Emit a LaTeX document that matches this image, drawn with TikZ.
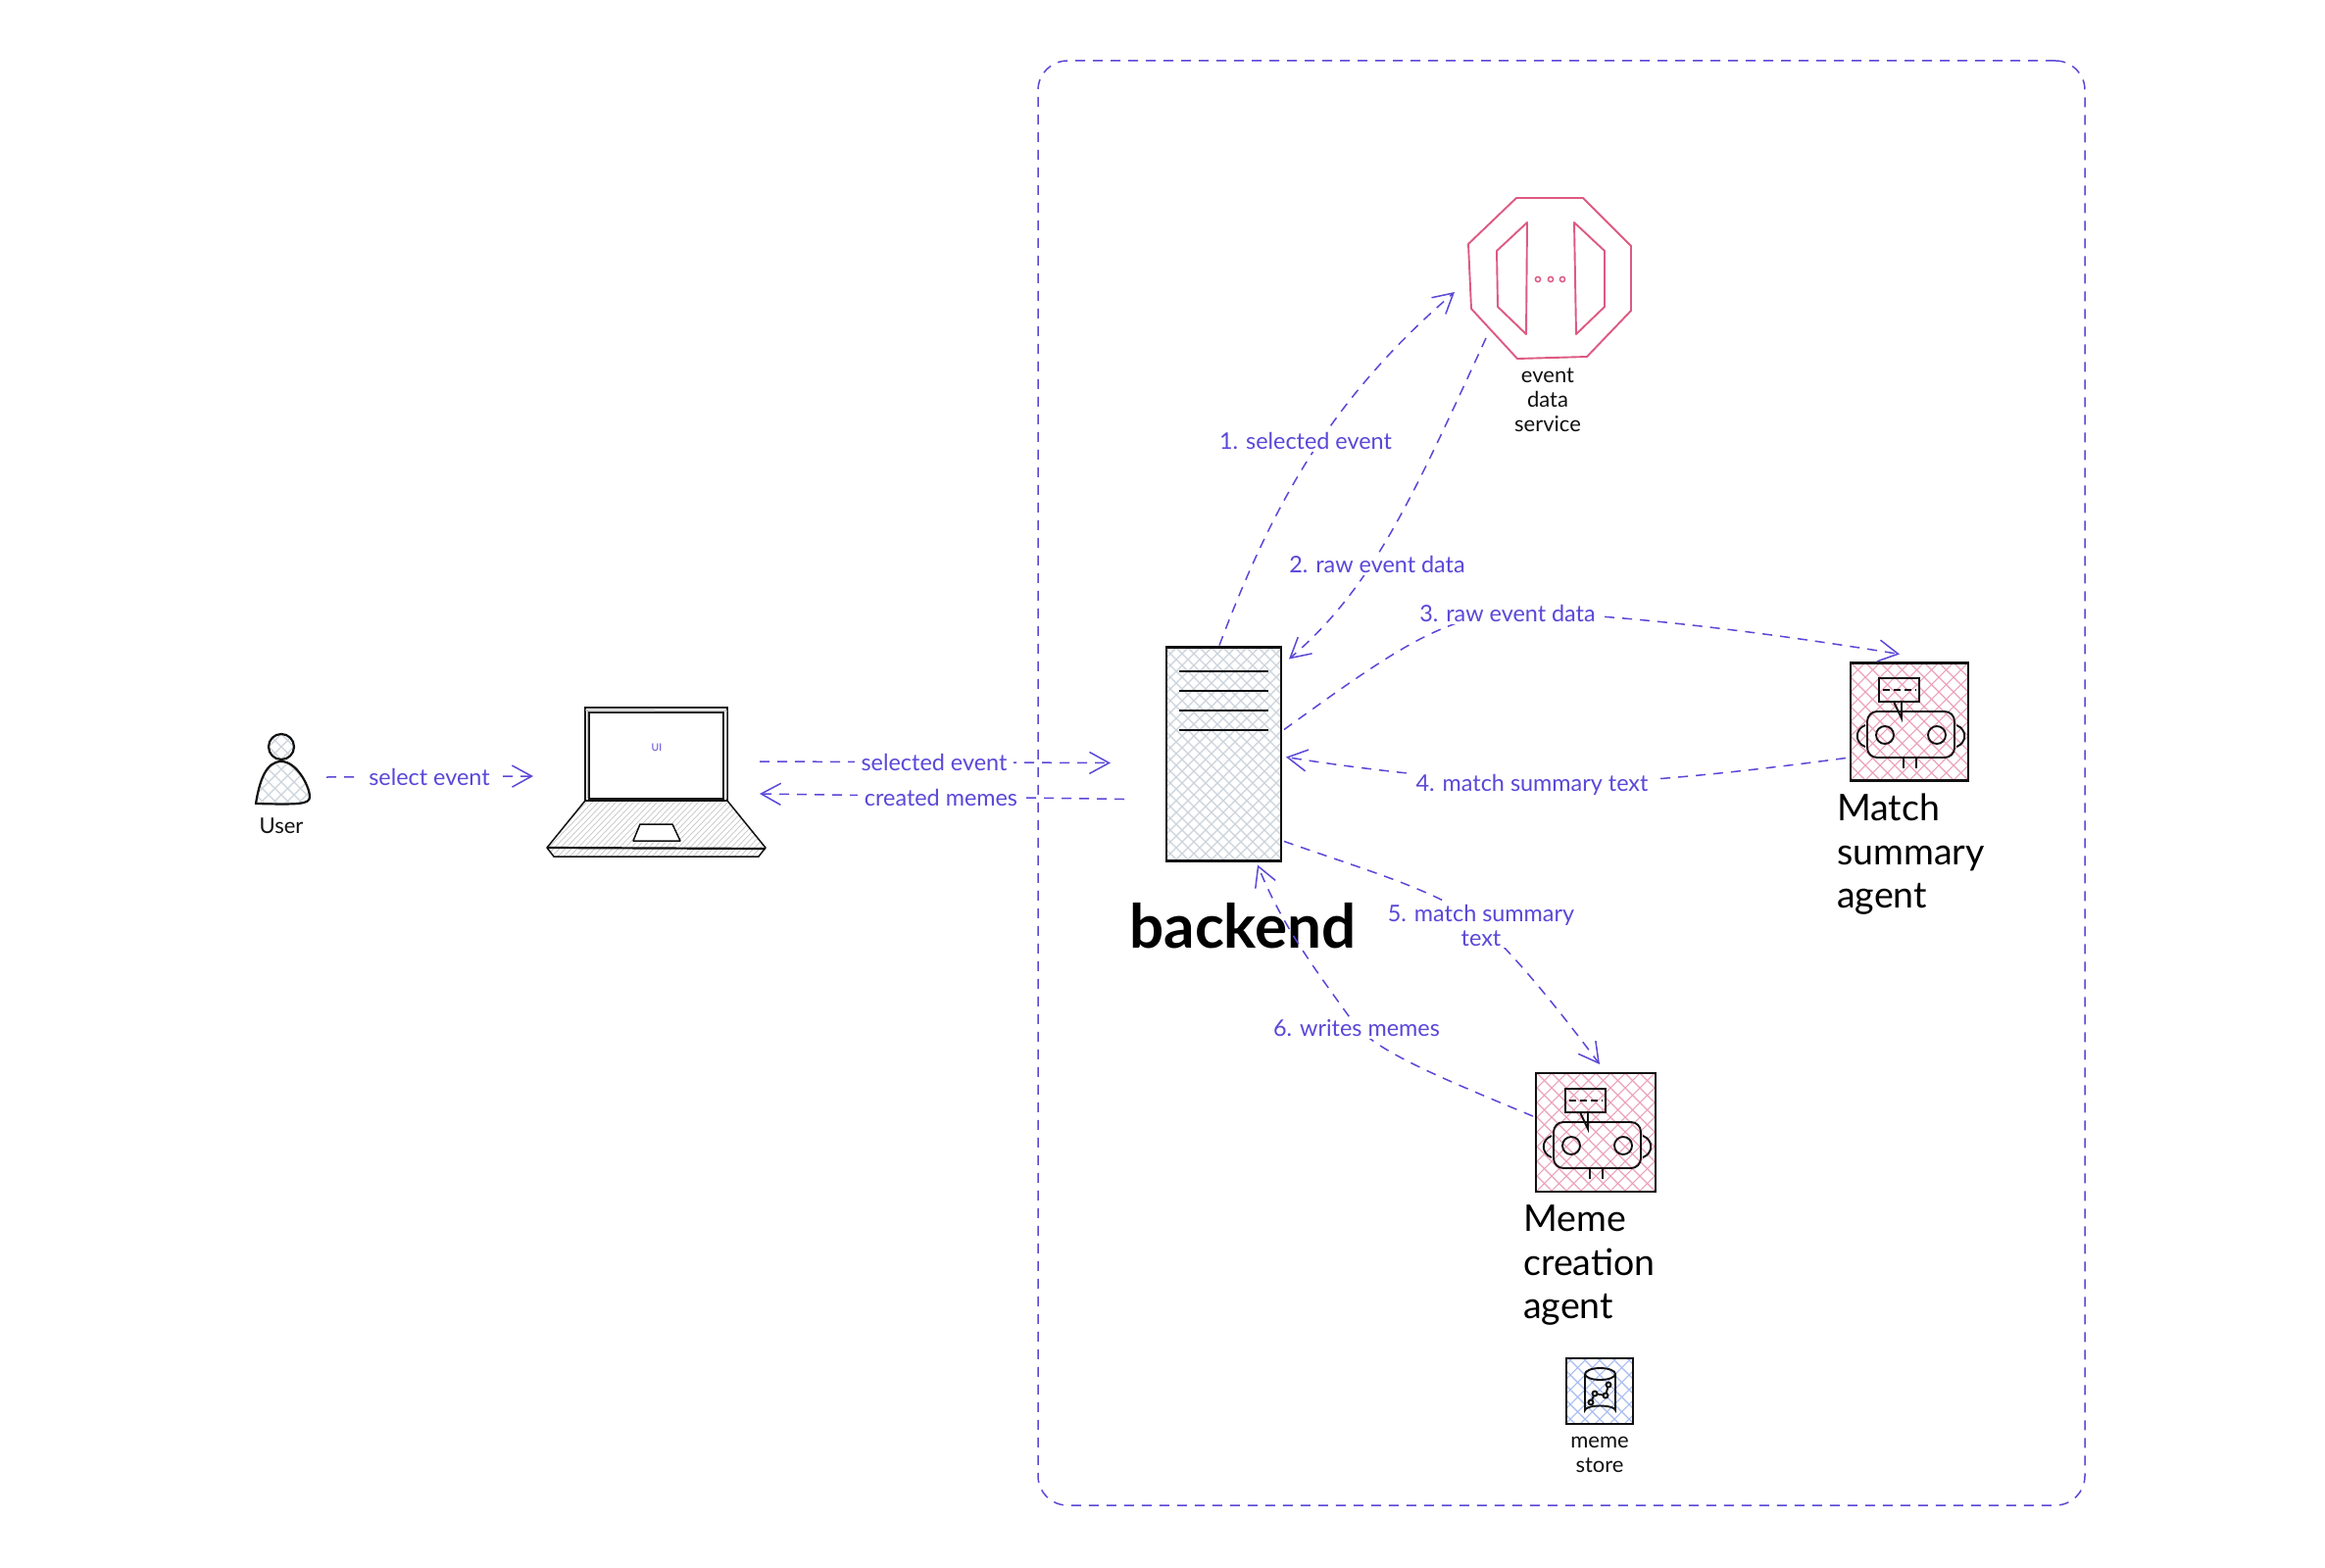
\documentclass[tikz,border=0pt]{standalone}
\usepackage{fontspec}
\setmainfont{Lato}
\usetikzlibrary{arrows.meta,shapes.misc}
\definecolor{flow}{HTML}{5A48D8}
\definecolor{rosepen}{HTML}{DD5A82}
\definecolor{inkc}{HTML}{111111}
\definecolor{hatchgrey}{HTML}{CCD3DB}
\definecolor{hatchpink}{HTML}{ECA0B8}
\definecolor{hatchblue}{HTML}{A8BCF0}
\newcommand{\hatchfill}[6]{% clip path, cx, cy, R, x spacing, colour
  \begin{scope}
    \clip #1;
    \pgfmathtruncatemacro{\nn}{#4/#5}
    \foreach \k in {-\nn,...,\nn}{
      \draw[#6,line width=1.1pt] ({#2+\k*#5-#4},{#3-#4}) -- ({#2+\k*#5+#4},{#3+#4});
      \draw[#6,line width=1.1pt] ({#2+\k*#5+#4},{#3-#4}) -- ({#2+\k*#5-#4},{#3+#4});
    }
  \end{scope}}
\newcommand{\robot}[2]{%
  \begin{scope}[shift={(#1,#2)},line width=1.9pt,draw=inkc]
    \draw[fill=none] (29,15) rectangle (70,39);
    \draw (44,39) -- (52,56) -- (52,39);
    \draw[line width=2pt,dash pattern=on 7pt off 4pt] (33,27) -- (67,27);
    \draw[rounded corners=10pt] (17,49) rectangle (106,96);
    \draw (35,73) circle (9);
    \draw (88,73) circle (9);
    \draw (15,63) .. controls (4,67) and (4,81) .. (15,85);
    \draw (108,63) .. controls (119,67) and (119,81) .. (108,85);
    \draw (54,96) -- (54,107);
    \draw (67,96) -- (67,107);
  \end{scope}}
\tikzset{
  x=1pt,y=-1pt,
  flowline/.style={draw=flow,line width=1.5pt,dash pattern=on 10pt off 8pt,
    -{Straight Barb[length=20pt,width=22pt,line width=1.5pt]}},
  flowlabel/.style={text=flow,fill=white,inner ysep=2pt,inner xsep=7pt,font=\fontsize{23.4}{25}\selectfont,align=center},
  smalltext/.style={text=inkc,inner sep=0pt,font=\fontsize{22}{25}\selectfont,align=center},
  bigtext/.style={text=black,inner sep=0pt,font=\fontsize{37.5}{44.5}\selectfont,align=left,anchor=west},
  box/.style={draw=inkc,line width=2.5pt,inner sep=0pt,outer sep=0pt,rectangle},
  sketch/.style={draw=inkc,line width=1.5pt},
  rosepath/.style={draw=rosepen,line width=1.9pt},
}
\begin{document}
\begin{tikzpicture}
\useasboundingbox (0,0) rectangle (2372,1600);
\fill[white] (0,0) rectangle (2372,1600);

% system boundary
\node[draw=flow,line width=1.5pt,dash pattern=on 10pt off 8pt,rounded corners=30pt,
  rectangle,inner sep=0pt,minimum width=1068pt,minimum height=1474pt] (system) at (1593,799) {};

% user
\hatchfill{(287,762) circle (13)}{287}{762}{30}{13}{hatchgrey}
\hatchfill{(261,820) .. controls (265,795) and (272,777) .. (287,777) .. controls (303,777) and (316,803) .. (316,813) .. controls (316,821) and (304,821) .. (261,820) -- cycle}{287}{798}{65}{13}{hatchgrey}
\node[circle,draw=inkc,line width=2.2pt,minimum size=26pt,inner sep=0pt] (userhead) at (287,762) {};
\draw[draw=inkc,line width=2.2pt,line join=round] (261,820) .. controls (265,795) and (272,777) .. (287,777) .. controls (303,777) and (316,803) .. (316,813) .. controls (316,821) and (304,821) .. (261,820) -- cycle;
\coordinate (userend) at (333,793);
\node[smalltext] (userlabel) at (287,843) {User};

% laptop
\begin{scope}
  \clip (597,817) -- (742,817) -- (781,865) -- (774,874) -- (565,874) -- (558,865) -- cycle;
  \foreach \k in {0,6,...,300}{
    \draw[gray!45,line width=.7pt] ({558+\k-55},874) -- ({558+\k},817);
  }
\end{scope}
\fill[white] (653,841) -- (686,841) -- (694,858) -- (646,858) -- cycle;
\node[draw=inkc,line width=2pt,rectangle,inner sep=0pt,minimum width=145pt,minimum height=95pt] (laptop) at (669.5,769.5) {};
\node[draw=inkc,line width=2pt,rectangle,inner sep=0pt,minimum width=137pt,minimum height=88pt] (screen) at (669.5,771) {};
\draw[gray!60,line width=1pt] (597,724.5) -- (742,725) (599.5,725) -- (599.5,815) (741,725) -- (741,815);
\node[text=flow,font=\fontsize{10.5}{12}\selectfont,inner sep=0pt] (uilabel) at (670,763) {UI};
\draw[sketch,line join=round] (597,817) -- (558,865) -- (565,874) -- (774,874) -- (781,865) -- (742,817);
\draw[draw=inkc,line width=2.2pt] (558,865) -- (781,866);
\draw[sketch,line join=round] (653,841) -- (686,841) -- (694,858) -- (646,858) -- cycle;

% backend
\hatchfill{(1190,660) rectangle (1307,878)}{1248}{769}{175}{12}{hatchgrey}
\node[box,minimum width=117pt,minimum height=218pt] (backend) at (1248.5,769.5) {};
\foreach \yy in {685,705,725,745}{\draw[draw=inkc,line width=2pt] (1203,\yy) -- (1294,\yy);}
\node[text=black,inner sep=0pt,font=\bfseries\fontsize{62}{70}\selectfont] (backendlabel) at (1268,945) {backend};

% event data service
\node[rectangle,inner sep=0pt,minimum width=166pt,minimum height=164pt] (eds) at (1581,284) {};
\draw[rosepath,line join=round] (1547,202) -- (1615,202) -- (1664,251) -- (1664,317) -- (1619,364) -- (1548,366) -- (1501,315) -- (1498,249) -- cycle;
\draw[rosepath,line join=round] (1558,227) -- (1527,256) -- (1528,313) -- (1557,341) -- cycle;
\draw[rosepath,line join=round] (1606,227) -- (1637,256) -- (1637,313) -- (1608,341) -- cycle;
\foreach \xx in {1569,1582,1594}{\draw[draw=rosepen,line width=1.5pt] (\xx,285) circle (2.6);}
\node[smalltext] (edslabel) at (1579,408.5) {event\\data\\service};

% match summary agent
\hatchfill{(1888,676) rectangle (2008,796)}{1948}{736}{125}{15}{hatchpink}
\node[box,minimum width=120pt,minimum height=120pt] (match) at (1948,736.5) {};
\robot{1888}{677}
\node[bigtext] (matchlabel) at (1874,872) {Match\\summary\\agent};

% meme creation agent
\hatchfill{(1567,1095) rectangle (1689,1216)}{1628}{1155}{125}{15}{hatchpink}
\node[box,minimum width=122pt,minimum height=121pt] (meme) at (1628,1155.5) {};
\robot{1568}{1096}
\node[bigtext] (memelabel) at (1554,1291) {Meme\\creation\\agent};

% meme store
\hatchfill{(1598,1385) rectangle (1666,1452)}{1632}{1418}{70}{15}{hatchblue}
\node[box,line width=2pt,minimum width=68pt,minimum height=67pt] (store) at (1632,1419) {};
\begin{scope}[draw=inkc,line width=1.9pt]
  \draw (1617,1402) arc[start angle=180,end angle=-180,x radius=15.5,y radius=6];
  \draw (1617,1402) -- (1617,1439) arc[start angle=180,end angle=360,x radius=15.5,y radius=4.5] -- (1648,1402);
  \draw (1623,1431) -- (1627,1422) -- (1638,1424) -- (1641,1413);
  \foreach \pp in {(1623,1431),(1627,1422),(1638,1424),(1641,1413)}{\draw[fill=white] \pp circle (2.5);}
\end{scope}
\node[smalltext] (storelabel) at (1632,1484) {meme\\store};

% connectors
\draw[flowline] (userend) -- ([shift={(-125.5,22.5)}]laptop.center);
\draw[flowline] ([shift={(105.5,7.5)}]laptop.center) -- ([shift={(-115.5,9)}]backend.center);
\draw[flowline] ([shift={(-101.5,46)}]backend.center) -- ([shift={(105.5,40.5)}]laptop.center);
\draw[flowline] (backend.north)++(-4.5,-2) .. controls (1300,510) and (1360,405) .. ([shift={(-97,14)}]eds.center);
\draw[flowline] ([shift={(-65,61)}]eds.center) .. controls (1440,510) and (1400,600) .. ([shift={(66.5,-97)}]backend.center);
\draw[flowline] ([shift={(61.5,-25)}]backend.center) .. controls (1420,665) and (1470,630) .. (1540,625) .. controls (1640,625) and (1800,645) .. ([shift={(-10,-69)}]match.center);
\draw[flowline] ([shift={(-65,37)}]match.center) .. controls (1760,790) and (1640,802) .. (1563,799) .. controls (1480,795) and (1390,785) .. ([shift={(63.5,3)}]backend.center);
\draw[flowline] ([shift={(61.5,89)}]backend.center) .. controls (1400,890) and (1470,910) .. (1511,943) .. controls (1550,980) and (1590,1030) .. ([shift={(4,-69.5)}]meme.center);
\draw[flowline] ([shift={(-64,-16.5)}]meme.center) .. controls (1470,1100) and (1410,1075) .. (1384,1048) .. controls (1350,1000) and (1310,950) .. ([shift={(34.5,113)}]backend.center);

% connector labels
\node[flowlabel] (lselect) at (438,793) {select event};
\node[flowlabel] (lselected) at (953,778) {selected event};
\node[flowlabel] (lcreated) at (960,814) {created memes};
\node[flowlabel] (l1) at (1332,450) {1. selected event};
\node[flowlabel] (l2) at (1405,576) {2. raw event data};
\node[flowlabel] (l3) at (1538,626) {3. raw event data};
\node[flowlabel] (l4) at (1563,801) {4. match summary text};
\node[flowlabel] (l5) at (1511,944) {5. match summary\\text};
\node[flowlabel] (l6) at (1384,1049) {6. writes memes};
\end{tikzpicture}
\end{document}
